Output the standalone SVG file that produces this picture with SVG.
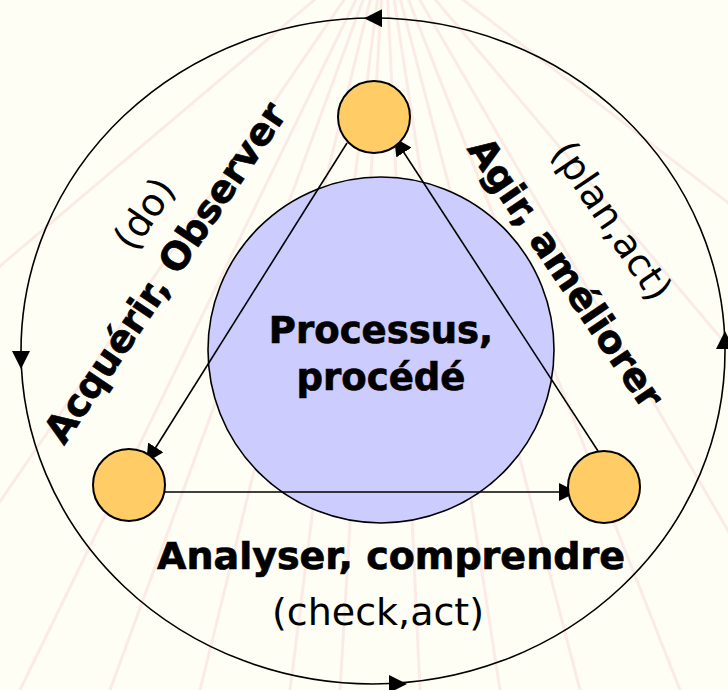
<svg xmlns="http://www.w3.org/2000/svg" width="728" height="690" viewBox="0 0 728 690">
<defs>
<style>
.bg-line{stroke:#f4c9cc;stroke-width:3;opacity:0.35;fill:none}
.edge{stroke:#000;stroke-width:1.6;fill:none}
.node{fill:#ffcc66;stroke:#000;stroke-width:2}
.b{font-family:"DejaVu Sans",Verdana,sans-serif;font-weight:bold;fill:#000;stroke:#000;stroke-width:0.7;text-anchor:middle}
.r{font-family:"DejaVu Sans",Verdana,sans-serif;fill:#000;text-anchor:middle}
</style>
<marker id="mid" viewBox="0 0 10 10" refX="5" refY="5" markerWidth="18" markerHeight="18" markerUnits="userSpaceOnUse" orient="auto">
<path d="M0,0 L10,5 L0,10 z" fill="#000"/>
</marker>
</defs>
<rect width="728" height="690" fill="#fffef4"/>
<g id="background">
<path class="bg-line" d="M385,-60 L-40,560"/>
<path class="bg-line" d="M385,-60 L20,690"/>
<path class="bg-line" d="M385,-60 L110,690"/>
<path class="bg-line" d="M385,-60 L200,690"/>
<path class="bg-line" d="M385,-60 L290,690"/>
<path class="bg-line" d="M385,-60 L340,690"/>
<path class="bg-line" d="M385,-60 L420,690"/>
<path class="bg-line" d="M385,-60 L500,690"/>
<path class="bg-line" d="M385,-60 L580,690"/>
<path class="bg-line" d="M385,-60 L680,690"/>
<path class="bg-line" d="M385,-60 L780,620"/>
<path class="bg-line" d="M385,-60 L790,420"/>
<path class="bg-line" d="M385,-60 L790,250"/>
<path class="bg-line" d="M385,-60 L-40,300"/>
</g>
<g id="cycle">
<ellipse cx="373" cy="351" rx="352" ry="333" fill="none" stroke="#000" stroke-width="1.6"/>
<path d="M398,18.2 L373,18.2" stroke="none" fill="none" marker-end="url(#mid)"/>
<path d="M21,340 L21,360" stroke="none" fill="none" marker-end="url(#mid)"/>
<path d="M373,684 L398,684" stroke="none" fill="none" marker-end="url(#mid)"/>
<path d="M725,360 L725,340" stroke="none" fill="none" marker-end="url(#mid)"/>
</g>
<g id="process">
<circle cx="381" cy="350" r="173" fill="#ccccff" stroke="#000" stroke-width="1.6"/>
<text class="b" x="381" y="343" font-size="37">Processus,</text>
<text class="b" x="381" y="390" font-size="37">procédé</text>
</g>
<g id="connectors">
<path class="edge" d="M347,143 L151,455" marker-end="url(#mid)"/>
<path class="edge" d="M165,492 L568,492" marker-end="url(#mid)"/>
<path class="edge" d="M598,451 L399,145" marker-end="url(#mid)"/>
</g>
<g id="node-top"><circle class="node" cx="374" cy="117" r="36"/></g>
<g id="node-left"><circle class="node" cx="129" cy="485" r="36"/></g>
<g id="node-right"><circle class="node" cx="604" cy="487" r="36"/></g>
<g id="label-left">
<text class="b" font-size="38" transform="translate(176,280) rotate(-56)">Acquérir, Observer</text>
<text class="r" font-size="38" transform="translate(155,221) rotate(-56)">(do)</text>
</g>
<g id="label-right">
<text class="b" font-size="38" transform="translate(555,280) rotate(56)">Agir, améliorer</text>
<text class="r" font-size="38" transform="translate(601,228) rotate(56)">(plan,act)</text>
</g>
<g id="label-bottom">
<text class="b" x="391" y="569" font-size="38">Analyser, comprendre</text>
<text class="r" x="378" y="625" font-size="38">(check,act)</text>
</g>
</svg>
